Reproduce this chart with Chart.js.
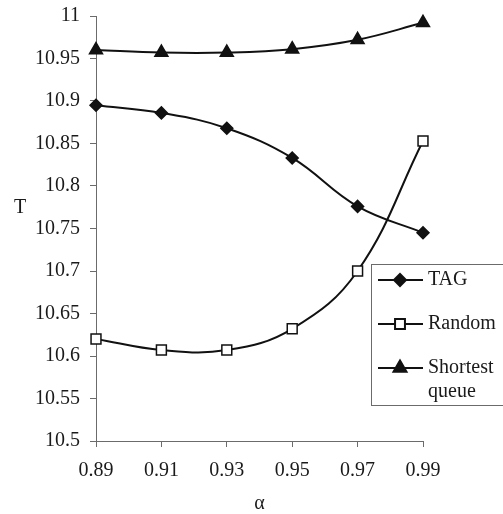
<!DOCTYPE html>
<html>
<head>
<meta charset="utf-8">
<script src="https://cdn.jsdelivr.net/npm/chart.js@4/dist/chart.umd.min.js"></script>
<style>
  body { margin: 0; background: #fff; }
  canvas { display: block; }
</style>
</head>
<body>
<canvas id="tChart" width="503" height="514"></canvas>
<script>
const alphaLabels = ['0.89', '0.91', '0.93', '0.95', '0.97', '0.99'];
const tagValues = [10.895, 10.886, 10.868, 10.833, 10.776, 10.745];
const randomValues = [10.620, 10.607, 10.607, 10.632, 10.700, 10.853];
const shortestValues = [10.960, 10.957, 10.957, 10.961, 10.972, 10.992];
const seriesNames = ['TAG', 'Random', 'Shortest queue'];

const serif = '"Liberation Serif", "Times New Roman", serif';
const axisGray = '#6b6b6b';
const ink = '#1a1a1a';

// legend box inside the plot + plain (unrotated) axis titles
const boxLegend = {
  id: 'boxLegend',
  afterDraw(chart, args, opts) {
    const ctx = chart.ctx;
    const area = chart.chartArea;
    const left = area.right - 52;
    const top = opts.top;
    ctx.save();
    ctx.strokeStyle = axisGray;
    ctx.lineWidth = 1;
    ctx.strokeRect(left + 0.5, top + 0.5, 140, opts.height);

    ctx.font = '20px ' + serif;
    ctx.fillStyle = ink;
    ctx.textBaseline = 'middle';
    let y = top + 16;
    chart.data.datasets.forEach(ds => {
      ctx.strokeStyle = ds.borderColor;
      ctx.lineWidth = 2;
      ctx.beginPath();
      ctx.moveTo(left + 7, y);
      ctx.lineTo(left + 52, y);
      ctx.stroke();
      ctx.fillStyle = ds.pointBackgroundColor;
      ctx.strokeStyle = ds.borderColor;
      Chart.helpers.drawPoint(ctx, {
        pointStyle: ds.pointStyle, rotation: 0,
        radius: ds.pointRadius, borderWidth: ds.pointBorderWidth
      }, left + 29, y);

      ctx.fillStyle = ink;
      const maxW = 72;
      const words = ds.label.split(' ');
      const lines = [];
      let cur = '';
      words.forEach(w => {
        const t = cur ? cur + ' ' + w : w;
        if (cur && ctx.measureText(t).width > maxW) { lines.push(cur); cur = w; }
        else cur = t;
      });
      lines.push(cur);
      lines.forEach((ln, i) => ctx.fillText(ln, left + 57, y + i * 24));
      y += 44;
    });

    ctx.textAlign = 'center';
    ctx.fillText('T', area.left - 76, 208);
    ctx.fillText('\u03b1', (area.left + area.right) / 2, area.bottom + 63);
    ctx.restore();
  }
};

function series(label, values, style, radius, fill) {
  return {
    label: label,
    data: values,
    borderColor: '#111',
    borderWidth: 2,
    tension: 0.4,
    pointStyle: style,
    pointRadius: radius,
    pointHoverRadius: radius,
    pointBackgroundColor: fill,
    pointBorderColor: '#111',
    pointBorderWidth: 1.5,
    clip: false
  };
}

new Chart(document.getElementById('tChart'), {
  type: 'line',
  data: {
    labels: alphaLabels,
    datasets: [
      series(seriesNames[0], tagValues, 'rectRot', 6, '#111'),
      series(seriesNames[1], randomValues, 'rect', 7, '#fff'),
      series(seriesNames[2], shortestValues, 'triangle', 7.5, '#111')
    ]
  },
  options: {
    responsive: false,
    animation: false,
    layout: { padding: { top: 16, right: 80, left: 0, bottom: 0 } },
    plugins: {
      legend: { display: false },
      tooltip: { enabled: false },
      boxLegend: { top: 264, height: 141 }
    },
    scales: {
      x: {
        type: 'category',
        offset: false,
        afterFit: s => { s.height = 73; },
        border: { display: true, color: axisGray, width: 1 },
        grid: { drawOnChartArea: false, drawTicks: true, tickLength: 6, color: axisGray },
        ticks: { color: ink, font: { family: serif, size: 20 }, padding: 12, maxRotation: 0 }
      },
      y: {
        min: 10.5,
        max: 11,
        afterFit: s => { s.width = 96; s.paddingTop = 0; s.paddingBottom = 0; },
        border: { display: true, color: axisGray, width: 1 },
        grid: { drawOnChartArea: false, drawTicks: true, tickLength: 6, color: axisGray },
        ticks: {
          stepSize: 0.05,
          color: ink,
          font: { family: serif, size: 20 },
          padding: 10,
          callback: v => String(Number(v.toFixed(2)))
        }
      }
    }
  },
  plugins: [boxLegend]
});
</script>
</body>
</html>
